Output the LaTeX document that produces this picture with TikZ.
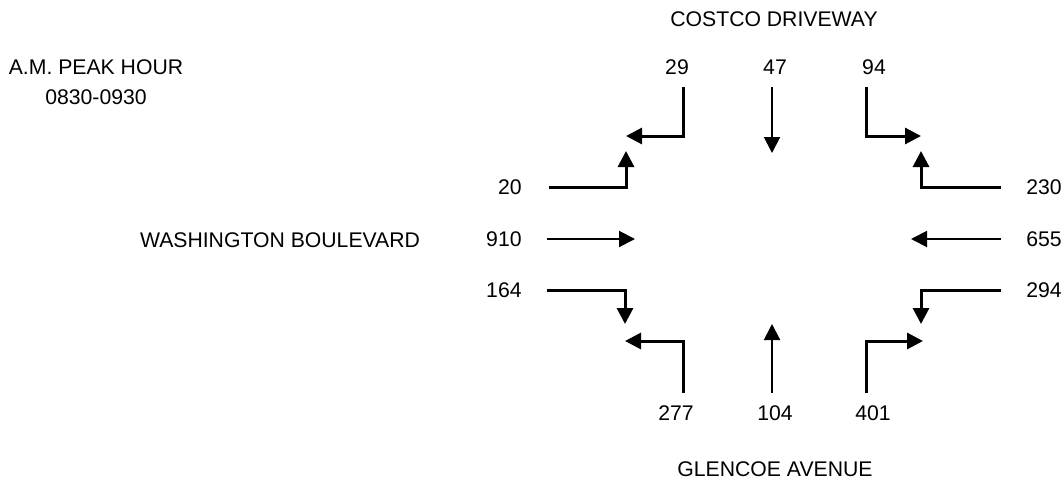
\documentclass[tikz,border=0pt]{standalone}
\usepackage{fontspec}
\setmainfont{Liberation Sans}
\usetikzlibrary{arrows.meta}

\begin{document}
\begin{tikzpicture}[x=0.5pt,y=-0.5pt,>={Triangle[length=8pt,width=8pt]}]
  \tikzstyle{lbl}=[inner sep=0,font=\fontsize{10.6}{12.7}\selectfont]
  \tikzstyle{turn}=[->,line width=1.5pt]
  \tikzstyle{thru}=[->,line width=1pt]
  \useasboundingbox (0,0) rectangle (1063,481);
  % titles and street names
  \node[lbl] (peak) at (96,67) {A.M. PEAK HOUR};
  \node[lbl] (time) at (96,97) {0830-0930};
  \node[lbl] (north) at (774,19) {COSTCO DRIVEWAY};
  \node[lbl] (west) at (280,240) {WASHINGTON BOULEVARD};
  \node[lbl] (south) at (775,469) {GLENCOE AVENUE};
  % volumes
  \node[lbl] (sbl) at (677,67) {29};
  \node[lbl] (sbt) at (775,67) {47};
  \node[lbl] (sbr) at (874,67) {94};
  \node[lbl,anchor=east] (ebl) at (522,187) {20};
  \node[lbl,anchor=east] (ebt) at (522,239) {910};
  \node[lbl,anchor=east] (ebr) at (522,290) {164};
  \node[lbl,anchor=west] (wbr) at (1026,187) {230};
  \node[lbl,anchor=west] (wbt) at (1026,239) {655};
  \node[lbl,anchor=west] (wbl) at (1026,290) {294};
  \node[lbl] (nbl) at (676,413) {277};
  \node[lbl] (nbt) at (775,413) {104};
  \node[lbl] (nbr) at (873,413) {401};
  % turning movements
  \foreach \x/\y/\tx/\ty in {683/87/626/136,866/87/921/136,683/393/625/341,866/393/923/341}
    \draw[turn] (\x,\y) |- (\tx,\ty);
  \foreach \x/\y/\tx/\ty in {549/187/626/151,547/290/625/324,1001/187/921/151,1001/290/921/324}
    \draw[turn] (\x,\y) -| (\tx,\ty);
  % through movements
  \foreach \x/\y/\tx/\ty in {772/87/772/153,547/239/635/239,1001/239/911/239,772/393/772/324}
    \draw[thru] (\x,\y) -- (\tx,\ty);
\end{tikzpicture}
\end{document}
